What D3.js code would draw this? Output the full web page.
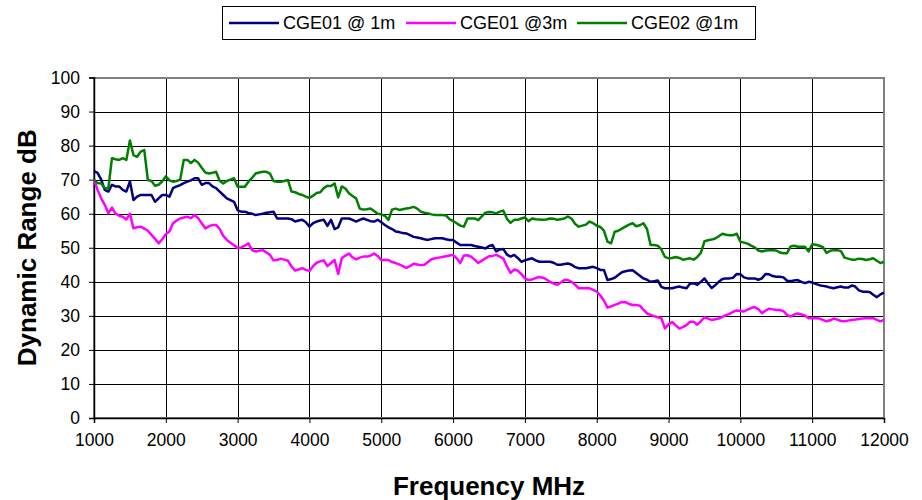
<!DOCTYPE html>
<html lang="en">
  <head>
    <meta charset="utf-8" />
    <title>dynamic range</title>
    <script type="text/javascript" src="https://d3js.org/d3.v7.min.js"></script>
    <style>
      body { margin: 0; background: #fff; }
      text { font-family: "Liberation Sans", Arial, sans-serif; }
    </style>
  </head>
  <body>
    <div id="chart"></div>
    <script type="text/javascript">
      /********************************
       * data (50 MHz steps)
       ********************************/

      const freqs = d3.range(1000, 12001, 50);

      const cge01At1m = [
        72.5, 72, 70, 67, 66.5, 68.5, 68, 68, 67, 66.5,
        69.5, 64, 65, 65.5, 65.5, 65.5, 65.5, 63.5, 64.5, 65.5,
        65.5, 65, 67.5, 68, 68.4, 69, 69.4, 69.8, 70.4, 70.4,
        68.5, 69, 69, 68, 67.5, 66.5, 65.5, 64.5, 64, 63.5,
        61, 60.6, 60.6, 60.2, 60, 59.6, 59.8, 60, 60.3, 60.4,
        60.6, 58.6, 58.6, 58.6, 58.6, 58.4, 57.7, 58, 58.2, 57.5,
        56.2, 57.2, 57.7, 58, 58.2, 56.4, 58.2, 55.5, 56, 58.6,
        58.6, 58.6, 58.2, 57.7, 58.2, 58.6, 58.2, 57.8, 57.7, 58.2,
        57.5, 56.7, 56, 55.5, 54.8, 54.6, 54.3, 54.2, 53.7, 53.2,
        53, 52.8, 52.5, 52.3, 52.6, 52.8, 52.8, 52.8, 52.5, 52.3,
        52.3, 51.5, 50.8, 50.8, 50.8, 50.8, 50.5, 50.3, 50.1, 49.8,
        50.5, 50.8, 48.9, 49.5, 49.6, 48, 47.4, 47.9, 47, 45.9,
        46.3, 46.6, 46.9, 46.3, 45.9, 45.9, 45.9, 45.9, 45.6, 45,
        45, 45.2, 45.4, 45, 44.3, 44, 44, 44, 44.2, 44.4,
        44, 43.5, 43.5, 40.5, 40.8, 41.2, 42, 42.8, 43.1, 43.3,
        43.4, 42.6, 41.8, 41, 40.6, 40, 40.2, 40.4, 38.5, 38.1,
        38.1, 38.1, 38.4, 38.6, 38.3, 38.1, 39.5, 39.6, 39.1, 40,
        41, 39.5, 38.2, 39, 40, 40.8, 41, 41, 41.2, 42.3,
        42.2, 41.3, 41, 41, 41, 40.6, 41, 42.3, 42.2, 41.7,
        41.5, 41.5, 41.3, 40.3, 40.2, 40.4, 40.5, 40, 39.6, 40,
        39.8, 39.4, 39, 38.8, 38.6, 38.3, 38.1, 38.4, 38.6, 38.3,
        38.3, 38.9, 38.6, 37.5, 37.1, 37.1, 37, 36.2, 35.5, 36.3,
        36.8
      ];

      const cge01At3m = [
        70, 67, 64.5, 62.6, 60.1, 61.8, 60, 59.4, 59.1, 58.3,
        60, 55.7, 56, 56.2, 55.6, 55, 53.8, 52.6, 51.3, 52.5,
        54, 54.8, 57.2, 58, 58.6, 58.9, 59.1, 58.7, 59.6, 58.7,
        57.2, 55.7, 56.3, 56.7, 56.7, 55.5, 53.5, 52.3, 51.5, 50.7,
        49.9, 50.1, 50.6, 51.3, 49.3, 48.9, 49.1, 49.3, 48.6, 47.9,
        46.3, 46.4, 46.8, 46.5, 46.2, 44.5, 43.3, 43.6, 44, 43.5,
        43.2, 44.6, 45.6, 46, 46.3, 44.6, 45.5, 46.4, 42.3, 46.9,
        47.7, 48.3, 47.2, 46.6, 47.1, 47.4, 47.4, 47.7, 48.3, 47.6,
        46.4, 46.4, 46.4, 45.8, 45.5, 45.1, 44.6, 44.1, 44.6, 45.3,
        45.1, 44.9, 45, 45.8, 46.6, 46.9, 47.1, 47.3, 47.5, 47.7,
        47.9, 46.9, 45.5, 47.7, 47.8, 47.4, 46.5, 45.5, 46.2, 46.9,
        47.5, 47.6, 47.9, 47.4, 46.8, 44.5, 42.6, 43.6, 43.3, 42.3,
        41, 40.5, 40.7, 41.1, 41.4, 41.2, 40.7, 40, 39.5, 39.1,
        39.8, 40.5, 40.5, 40, 39.1, 38.1, 38.1, 38.1, 38.1, 37.6,
        37.1, 36, 34.5, 32.4, 32.8, 33.2, 33.6, 34.1, 34, 33.5,
        33.2, 33.2, 33, 31.8, 30.7, 30.3, 29.9, 29.6, 29.3, 26.3,
        27.5, 28.2, 27.2, 26.3, 26.7, 27.3, 28.3, 28.3, 27.4, 28.4,
        29.6, 29.2, 28.8, 29, 29.2, 29.7, 30.2, 30.6, 31.2, 31.6,
        31.4, 31.3, 31.8, 32.3, 32.6, 32, 30.8, 31.5, 32.1, 31.9,
        31.7, 31.7, 31.4, 30.3, 29.8, 30.4, 30.7, 30.4, 30.1, 29.3,
        29.3, 29.3, 29.2, 28.8, 28.4, 28.7, 29.2, 28.9, 28.5, 28.4,
        28.6, 28.8, 28.9, 29.1, 29.2, 29.3, 29.3, 29.3, 28.8, 28.4,
        28.8
      ];

      const cge02At1m = [
        70, 69, 68.9, 67.5, 67.5, 76.3, 76, 75.8, 76.3, 75.8,
        81.5, 77.2, 76.7, 78.2, 78.7, 69.9, 69.6, 68.2, 68.5, 69.5,
        71, 69.8, 69.4, 69.6, 70, 75.8, 75.8, 74.9, 75.8, 75,
        73.5, 72.1, 71.8, 72, 72.3, 69.6, 68.9, 69.6, 70, 70.4,
        67.9, 67.9, 67.9, 69.4, 70.5, 71.8, 72.1, 72.3, 72.3, 71.8,
        69.6, 69.4, 69.4, 69.6, 69.9, 66.5, 66.3, 65.8, 65.5, 65,
        64.6, 65.3, 66.1, 66.3, 67.5, 68.2, 68.1, 68.9, 64.8, 68,
        67.4, 66, 65.2, 64.5, 61.5, 61.2, 61.3, 61.5, 60.8, 60,
        59.8, 59.4, 58.2, 61.2, 61.5, 61.1, 61.3, 61.5, 61.7, 62,
        61.5, 60.6, 60.3, 60.1, 59.8, 59.6, 59.6, 59.6, 59.5, 58.4,
        57.8, 57.2, 56.5, 56.2, 58.6, 58.6, 58.6, 58.1, 59.2, 60.3,
        60.5, 60.4, 60.1, 60.6, 60.9, 58.5, 57.3, 58.2, 58.2, 58.6,
        58.9, 57.8, 58.6, 58.4, 58.3, 58.2, 58.3, 58.6, 58.5, 58.2,
        58.4, 58.6, 59.2, 58.5, 57, 56.2, 56.5, 56.8, 57.7, 57.2,
        56.5, 56.1, 55, 51.8, 51.3, 54.7, 55, 55.6, 56.2, 56.8,
        57.2, 56.3, 56.6, 57.2, 55.5, 50.8, 50.8, 50.6, 49.5, 47.3,
        46.9, 47, 47.3, 47, 46.5, 46.7, 46.9, 46.5, 47.3, 48.5,
        51.9, 52.2, 52.4, 52.7, 53.4, 54.1, 53.8, 53.7, 53.7, 54.1,
        51.8, 51.5, 51.2, 50.6, 50.1, 49.2, 48.9, 49.2, 49.3, 49.3,
        49.2, 48.6, 48.4, 48.4, 50.4, 50.6, 50.3, 50.3, 50.3, 48.9,
        51, 50.9, 50.6, 50.2, 48.5, 49.1, 49.3, 49.3, 49, 47.1,
        46.8, 46.5, 46.5, 46.8, 46.7, 46.4, 46.6, 46.9, 46.2, 45.5,
        45.9
      ];

      const seriesNames = ["CGE01 @ 1m", "CGE01 @3m", "CGE02 @1m"];
      const seriesColors = ["#000080", "#ff00ff", "#008000"];
      const seriesValues = [cge01At1m, cge01At3m, cge02At1m];

      const xTicks = d3.range(1000, 12001, 1000);
      const yTicks = d3.range(0, 101, 10);

      /***************************
       * svg + scales
       **************************/

      const width = 922;
      const height = 500;

      const svg = d3
        .select("#chart")
        .append("svg")
        .attr("width", width)
        .attr("height", height);

      const x = d3.scaleLinear().domain([1000, 12000]).range([94, 884]);
      const y = d3.scaleLinear().domain([0, 100]).range([418, 77.5]);

      /***************************
       * grid + frame
       **************************/

      const grid = svg.append("g").attr("shape-rendering", "crispEdges");

      grid
        .selectAll("line.h")
        .data(yTicks)
        .enter()
        .append("line")
        .attr("x1", x(1000))
        .attr("x2", x(12000))
        .attr("y1", (d) => Math.round(y(d)) + 0.5)
        .attr("y2", (d) => Math.round(y(d)) + 0.5)
        .style("stroke", "#000")
        .style("stroke-width", 1);

      grid
        .selectAll("line.v")
        .data(xTicks)
        .enter()
        .append("line")
        .attr("x1", (d) => Math.round(x(d)) + 0.5)
        .attr("x2", (d) => Math.round(x(d)) + 0.5)
        .attr("y1", y(100))
        .attr("y2", y(0))
        .style("stroke", "#000")
        .style("stroke-width", 1);

      // plot border
      grid
        .append("rect")
        .attr("x", x(1000))
        .attr("y", y(100))
        .attr("width", x(12000) - x(1000))
        .attr("height", y(0) - y(100))
        .style("fill", "none")
        .style("stroke", "#808080")
        .style("stroke-width", 2);

      /***************************
       * axes
       **************************/

      const xAxis = d3.axisBottom(x).tickValues(xTicks).tickSize(5).tickPadding(11).tickFormat(d3.format("d"));
      const yAxis = d3.axisLeft(y).tickValues(yTicks).tickSize(5).tickPadding(9);

      const gx = svg
        .append("g")
        .attr("transform", `translate(0,${y(0)})`)
        .call(xAxis);
      const gy = svg
        .append("g")
        .attr("transform", `translate(${x(1000)},0)`)
        .call(yAxis);

      [gx, gy].forEach((g) => {
        g.selectAll("path").style("stroke", "#000").style("stroke-width", 1.5);
        g.selectAll("line").style("stroke", "#000");
        g.selectAll("text")
          .style("font-size", "17.5px")
          .style("fill", "#000")
          .style("font-family", "Liberation Sans, Arial, sans-serif");
      });

      svg
        .append("text")
        .attr("transform", `translate(27,${(y(0) + y(100)) / 2}) rotate(-90)`)
        .attr("text-anchor", "middle")
        .attr("dominant-baseline", "central")
        .style("font-size", "26px")
        .style("font-weight", "bold")
        .text("Dynamic Range dB");

      svg
        .append("text")
        .attr("x", (x(1000) + x(12000)) / 2)
        .attr("y", 486)
        .attr("text-anchor", "middle")
        .attr("dominant-baseline", "central")
        .style("font-size", "26px")
        .style("font-weight", "bold")
        .text("Frequency MHz");

      /***************************
       * series lines
       **************************/

      const line = d3
        .line()
        .x((d, i) => x(freqs[i]))
        .y((d) => y(d));

      svg
        .selectAll("path.series")
        .data(seriesValues)
        .enter()
        .append("path")
        .attr("class", "series")
        .attr("d", line)
        .style("fill", "none")
        .style("stroke", (d, i) => seriesColors[i])
        .style("stroke-width", 2.5)
        .style("stroke-linejoin", "round");

      /***************************
       * legend
       **************************/

      const legend = svg.append("g");
      legend
        .append("rect")
        .attr("x", 222.5)
        .attr("y", 6.5)
        .attr("width", 533)
        .attr("height", 33)
        .style("fill", "#fff")
        .style("stroke", "#000")
        .style("stroke-width", 1);

      const legendX = [229, 406, 577];
      const items = legend
        .selectAll("g.item")
        .data(seriesNames)
        .enter()
        .append("g")
        .attr("transform", (d, i) => `translate(${legendX[i]},23)`);

      items
        .append("line")
        .attr("x1", 0)
        .attr("x2", 50)
        .style("stroke", (d, i) => seriesColors[i])
        .style("stroke-width", 2.5);

      items
        .append("text")
        .attr("x", 54)
        .attr("dominant-baseline", "central")
        .style("font-size", "18px")
        .text((d) => d);
    </script>
  </body>
</html>
